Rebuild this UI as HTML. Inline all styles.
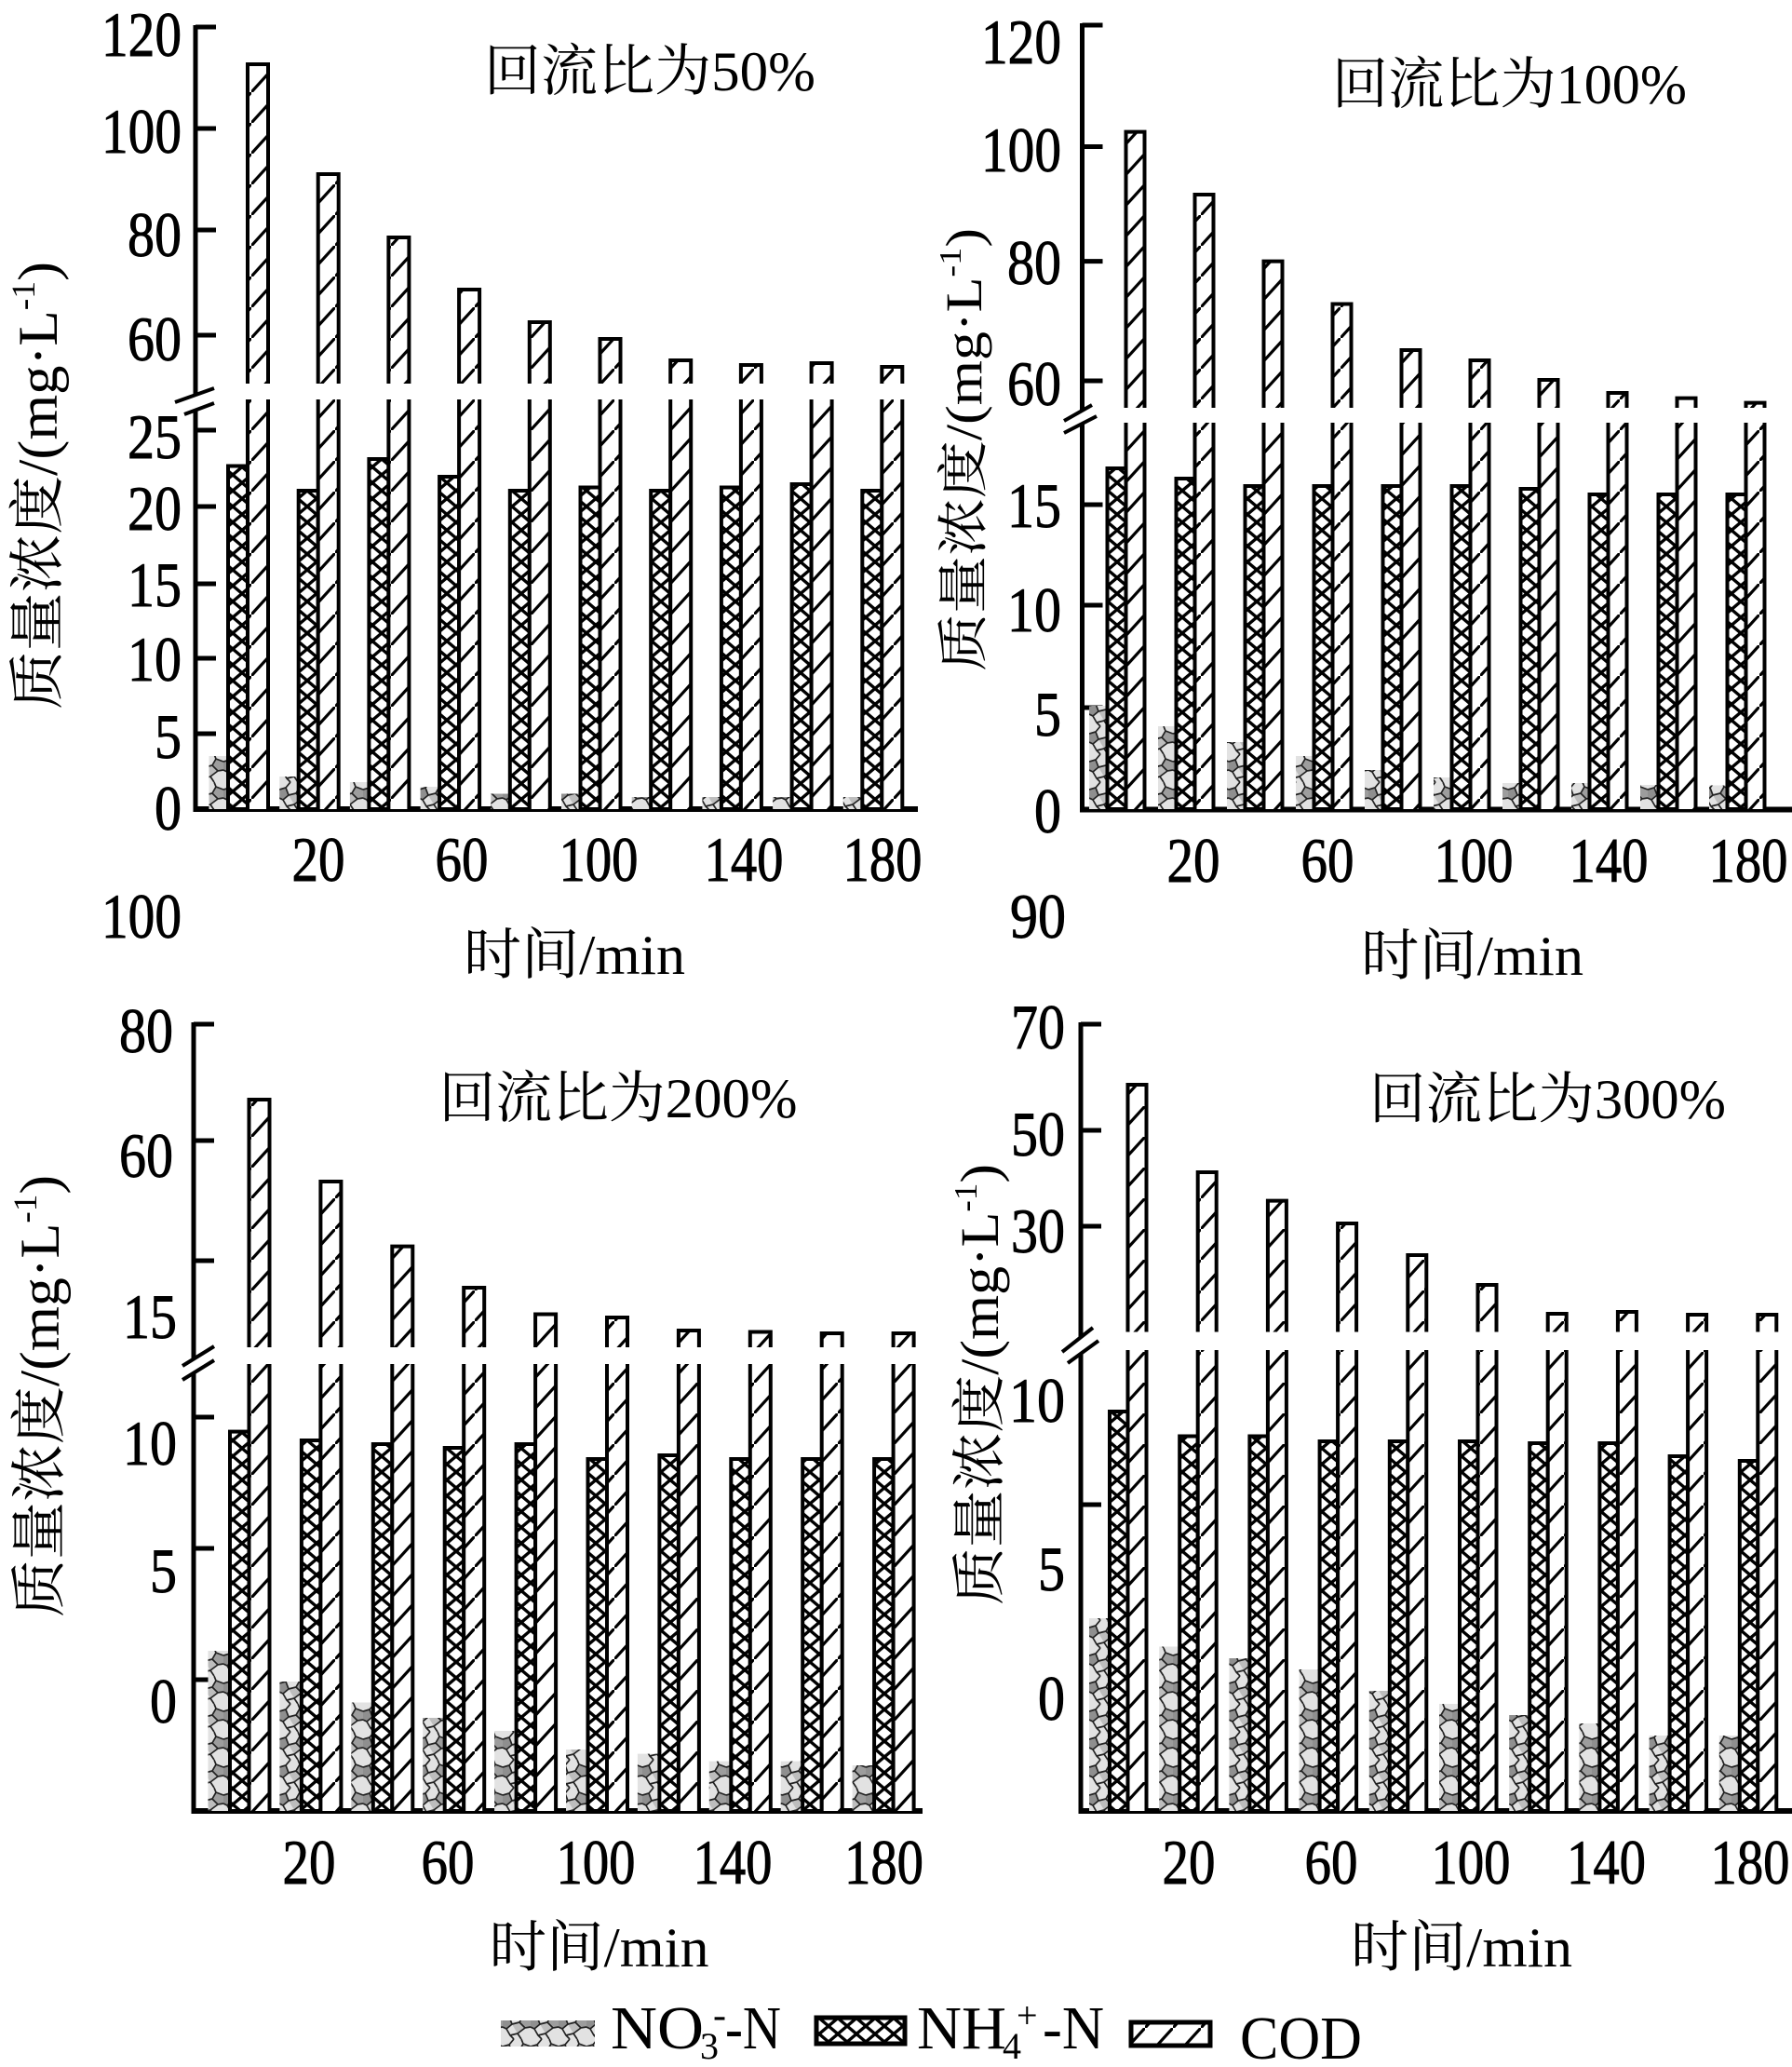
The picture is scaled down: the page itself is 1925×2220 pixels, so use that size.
<!DOCTYPE html>
<html><head><meta charset="utf-8"><style>
html,body{margin:0;padding:0;background:#fff;}
svg{display:block;}
text{font-family:"Liberation Serif","Noto Serif CJK SC",serif;fill:#000;}
.t{font-size:68px;stroke:#000;stroke-width:0.9px;}
.ti{font-size:60px;}
</style></head><body>
<svg width="1925" height="2220" viewBox="0 0 1925 2220" xmlns="http://www.w3.org/2000/svg">
<defs>
<pattern id="cod" width="30" height="33" patternUnits="userSpaceOnUse"><rect width="30" height="33" fill="#fff"/><path d="M-3,36.3 L33,-3.3" stroke="#000" stroke-width="3.2"/></pattern>
<pattern id="nh4" width="20" height="17" patternUnits="userSpaceOnUse"><rect width="20" height="17" fill="#fff"/><path d="M10,0 L20,8.5 L10,17 L0,8.5 Z" fill="none" stroke="#000" stroke-width="3.4"/><circle cx="10" cy="0" r="2"/><circle cx="10" cy="17" r="2"/><circle cx="0" cy="8.5" r="2"/><circle cx="20" cy="8.5" r="2"/></pattern>
<pattern id="no3" width="30" height="30" patternUnits="userSpaceOnUse"><rect width="30" height="30" fill="#e2e2e2"/><path d="M7,6 L10,14 L4,19 L0,17 L0,8 Z" fill="#8f8f8f"/><path d="M18,12 L24,18 L16,24 L10,14 Z" fill="#bdbdbd"/><path d="M22,5 L30,8 L30,17 L24,18 L18,12 Z" fill="#6f6f6f" opacity="0.6"/><path d="M0,8 L7,6 L12,0 M7,6 L10,14 L4,19 L0,17 M10,14 L18,12 L22,5 L20,0 M18,12 L24,18 L30,17 M22,5 L30,8 M4,19 L8,26 L12,30 M8,26 L16,24 L20,30 M16,24 L24,18" fill="none" stroke="#222" stroke-width="1.7"/></pattern>
</defs>

<!-- ============ TOP LEFT ============ -->
<g stroke="#000" stroke-width="5" fill="none">
<path d="M210,27 V424 M210,440 V872"/>
<path d="M208,869 H986" stroke-width="6"/>
<path d="M210,29 h22 M210,138 h22 M210,247 h22 M210,360 h22 M210,462 h22 M210,544 h22 M210,627 h22 M210,707 h22 M210,788 h22"/>
<path d="M188,432 L230,417 M198,445 L230,433" stroke-width="4"/>
</g>
<g fill="url(#no3)">
<rect x="224.5" y="812" width="20.5" height="57"/><rect x="300.2" y="834" width="20.5" height="35"/><rect x="375.9" y="840" width="20.5" height="29"/><rect x="451.6" y="845" width="20.5" height="24"/><rect x="527.3" y="852.5" width="20.5" height="16.5"/><rect x="603" y="852.5" width="20.5" height="16.5"/><rect x="678.7" y="856" width="20.5" height="13"/><rect x="754.4" y="856" width="20.5" height="13"/><rect x="830.1" y="856" width="20.5" height="13"/><rect x="905.8" y="856" width="20.5" height="13"/>
</g>
<g fill="url(#nh4)" stroke="#000" stroke-width="4">
<rect x="245" y="500.5" width="21" height="368.5"/><rect x="320.7" y="527" width="21" height="342"/><rect x="396.4" y="493" width="21" height="376"/><rect x="472.1" y="512" width="21" height="357"/><rect x="547.8" y="527" width="21" height="342"/><rect x="623.5" y="523.5" width="21" height="345.5"/><rect x="699.2" y="527" width="21" height="342"/><rect x="774.9" y="523.5" width="21" height="345.5"/><rect x="850.6" y="520" width="21" height="349"/><rect x="926.3" y="527" width="21" height="342"/>
</g>
<g fill="url(#cod)">
<rect x="266" y="69" width="22" height="343"/><rect x="341.7" y="187" width="22" height="225"/><rect x="417.4" y="255" width="22" height="157"/><rect x="493.1" y="311" width="22" height="101"/><rect x="568.8" y="346" width="22" height="66"/><rect x="644.5" y="364" width="22" height="48"/><rect x="720.2" y="387" width="22" height="25"/><rect x="795.9" y="392" width="22" height="20"/><rect x="871.6" y="390" width="22" height="22"/><rect x="947.3" y="394" width="22" height="18"/>
<rect x="266" y="429" width="22" height="440"/><rect x="341.7" y="429" width="22" height="440"/><rect x="417.4" y="429" width="22" height="440"/><rect x="493.1" y="429" width="22" height="440"/><rect x="568.8" y="429" width="22" height="440"/><rect x="644.5" y="429" width="22" height="440"/><rect x="720.2" y="429" width="22" height="440"/><rect x="795.9" y="429" width="22" height="440"/><rect x="871.6" y="429" width="22" height="440"/><rect x="947.3" y="429" width="22" height="440"/>
</g>
<g fill="none" stroke="#000" stroke-width="4">
<path d="M266,412V69H288V412 M341.7,412V187H363.7V412 M417.4,412V255H439.4V412 M493.1,412V311H515.1V412 M568.8,412V346H590.8V412 M644.5,412V364H666.5V412 M720.2,412V387H742.2V412 M795.9,412V392H817.9V412 M871.6,412V390H893.6V412 M947.3,412V394H969.3V412"/>
<path d="M266,429V869M288,429V869 M341.7,429V869M363.7,429V869 M417.4,429V869M439.4,429V869 M493.1,429V869M515.1,429V869 M568.8,429V869M590.8,429V869 M644.5,429V869M666.5,429V869 M720.2,429V869M742.2,429V869 M795.9,429V869M817.9,429V869 M871.6,429V869M893.6,429V869 M947.3,429V869M969.3,429V869"/>
</g>
<g class="t" text-anchor="end">
<text x="195" y="60" textLength="86" lengthAdjust="spacingAndGlyphs">120</text>
<text x="195" y="164" textLength="86" lengthAdjust="spacingAndGlyphs">100</text>
<text x="195" y="275" textLength="58" lengthAdjust="spacingAndGlyphs">80</text>
<text x="195" y="387" textLength="58" lengthAdjust="spacingAndGlyphs">60</text>
<text x="195" y="492" textLength="58" lengthAdjust="spacingAndGlyphs">25</text>
<text x="195" y="569" textLength="58" lengthAdjust="spacingAndGlyphs">20</text>
<text x="195" y="651" textLength="58" lengthAdjust="spacingAndGlyphs">15</text>
<text x="195" y="731" textLength="58" lengthAdjust="spacingAndGlyphs">10</text>
<text x="195" y="814" textLength="29" lengthAdjust="spacingAndGlyphs">5</text>
<text x="195" y="891" textLength="29" lengthAdjust="spacingAndGlyphs">0</text>
<text x="195" y="1007" textLength="86" lengthAdjust="spacingAndGlyphs">100</text>
</g>
<g class="t" text-anchor="middle">
<text x="342" y="946" textLength="57" lengthAdjust="spacingAndGlyphs">20</text>
<text x="496" y="946" textLength="57" lengthAdjust="spacingAndGlyphs">60</text>
<text x="643" y="946" textLength="85" lengthAdjust="spacingAndGlyphs">100</text>
<text x="799" y="946" textLength="85" lengthAdjust="spacingAndGlyphs">140</text>
<text x="948" y="946" textLength="85" lengthAdjust="spacingAndGlyphs">180</text>
</g>
<text class="ti" x="520" y="97" textLength="356" lengthAdjust="spacingAndGlyphs">回流比为50%</text>
<text class="ti" x="498" y="1046" textLength="238" lengthAdjust="spacingAndGlyphs">时间/min</text>
<text transform="translate(61,762) rotate(-90)" font-size="60" textLength="481" lengthAdjust="spacingAndGlyphs">质量浓度/(mg·L<tspan font-size="36" dy="-24">-1</tspan><tspan dy="24">)</tspan></text>

<!-- ============ TOP RIGHT ============ -->
<g stroke="#000" stroke-width="5" fill="none">
<path d="M1162.5,25 V441 M1162.5,455 V872"/>
<path d="M1160,869.5 H1925" stroke-width="6"/>
<path d="M1162.5,27 h22 M1162.5,157.5 h22 M1162.5,280.6 h22 M1162.5,409 h22 M1162.5,542 h22 M1162.5,650 h22 M1162.5,760 h22"/>
<path d="M1143,452 L1173,435 M1143,465 L1178,447" stroke-width="4"/>
</g>
<g fill="url(#no3)">
<rect x="1170" y="758" width="19.5" height="111"/><rect x="1244" y="780" width="19.5" height="89"/><rect x="1318" y="797" width="19.5" height="72"/><rect x="1392" y="812" width="19.5" height="57"/><rect x="1466" y="827" width="19.5" height="42"/><rect x="1540" y="835" width="19.5" height="34"/><rect x="1614" y="841" width="19.5" height="28"/><rect x="1688" y="841" width="19.5" height="28"/><rect x="1762" y="843" width="19.5" height="26"/><rect x="1836" y="843.5" width="19.5" height="25.5"/>
</g>
<g fill="url(#nh4)" stroke="#000" stroke-width="4">
<rect x="1189.5" y="503" width="20" height="366"/><rect x="1263.5" y="514" width="20" height="355"/><rect x="1337.5" y="522" width="20" height="347"/><rect x="1411.5" y="522" width="20" height="347"/><rect x="1485.5" y="522" width="20" height="347"/><rect x="1559.5" y="522" width="20" height="347"/><rect x="1633.5" y="525" width="20" height="344"/><rect x="1707.5" y="531" width="20" height="338"/><rect x="1781.5" y="531" width="20" height="338"/><rect x="1855.5" y="531" width="20" height="338"/>
</g>
<g fill="url(#cod)">
<rect x="1209.5" y="141.6" width="20" height="296.4"/><rect x="1283.5" y="209" width="20" height="229"/><rect x="1357.5" y="280.6" width="20" height="157.4"/><rect x="1431.5" y="326.5" width="20" height="111.5"/><rect x="1505.5" y="376" width="20" height="62"/><rect x="1579.5" y="387" width="20" height="51"/><rect x="1653.5" y="408" width="20" height="30"/><rect x="1727.5" y="422" width="20" height="16"/><rect x="1801.5" y="427.6" width="20" height="10.4"/><rect x="1875.5" y="432.6" width="20" height="5.4"/>
<rect x="1209.5" y="454" width="20" height="415"/><rect x="1283.5" y="454" width="20" height="415"/><rect x="1357.5" y="454" width="20" height="415"/><rect x="1431.5" y="454" width="20" height="415"/><rect x="1505.5" y="454" width="20" height="415"/><rect x="1579.5" y="454" width="20" height="415"/><rect x="1653.5" y="454" width="20" height="415"/><rect x="1727.5" y="454" width="20" height="415"/><rect x="1801.5" y="454" width="20" height="415"/><rect x="1875.5" y="454" width="20" height="415"/>
</g>
<g fill="none" stroke="#000" stroke-width="4">
<path d="M1209.5,438V141.6H1229.5V438 M1283.5,438V209H1303.5V438 M1357.5,438V280.6H1377.5V438 M1431.5,438V326.5H1451.5V438 M1505.5,438V376H1525.5V438 M1579.5,438V387H1599.5V438 M1653.5,438V408H1673.5V438 M1727.5,438V422H1747.5V438 M1801.5,438V427.6H1821.5V438 M1875.5,438V432.6H1895.5V438"/>
<path d="M1209.5,454V869M1229.5,454V869 M1283.5,454V869M1303.5,454V869 M1357.5,454V869M1377.5,454V869 M1431.5,454V869M1451.5,454V869 M1505.5,454V869M1525.5,454V869 M1579.5,454V869M1599.5,454V869 M1653.5,454V869M1673.5,454V869 M1727.5,454V869M1747.5,454V869 M1801.5,454V869M1821.5,454V869 M1875.5,454V869M1895.5,454V869"/>
</g>
<g class="t" text-anchor="end">
<text x="1140" y="68" textLength="86" lengthAdjust="spacingAndGlyphs">120</text>
<text x="1140" y="184" textLength="86" lengthAdjust="spacingAndGlyphs">100</text>
<text x="1140" y="305" textLength="58" lengthAdjust="spacingAndGlyphs">80</text>
<text x="1140" y="435" textLength="58" lengthAdjust="spacingAndGlyphs">60</text>
<text x="1140" y="566" textLength="58" lengthAdjust="spacingAndGlyphs">15</text>
<text x="1140" y="678" textLength="58" lengthAdjust="spacingAndGlyphs">10</text>
<text x="1140" y="790" textLength="29" lengthAdjust="spacingAndGlyphs">5</text>
<text x="1140" y="894" textLength="29" lengthAdjust="spacingAndGlyphs">0</text>
<text x="1145" y="1007" textLength="60" lengthAdjust="spacingAndGlyphs">90</text>
</g>
<g class="t" text-anchor="middle">
<text x="1282" y="947" textLength="57" lengthAdjust="spacingAndGlyphs">20</text>
<text x="1426" y="947" textLength="57" lengthAdjust="spacingAndGlyphs">60</text>
<text x="1583" y="947" textLength="85" lengthAdjust="spacingAndGlyphs">100</text>
<text x="1728" y="947" textLength="85" lengthAdjust="spacingAndGlyphs">140</text>
<text x="1878" y="947" textLength="85" lengthAdjust="spacingAndGlyphs">180</text>
</g>
<text class="ti" x="1431" y="111" textLength="381" lengthAdjust="spacingAndGlyphs">回流比为100%</text>
<text class="ti" x="1462" y="1047" textLength="239" lengthAdjust="spacingAndGlyphs">时间/min</text>
<text transform="translate(1054,721) rotate(-90)" font-size="55" textLength="476" lengthAdjust="spacingAndGlyphs">质量浓度/(mg·L<tspan font-size="34" dy="-22">-1</tspan><tspan dy="22">)</tspan></text>

<!-- ============ BOTTOM LEFT ============ -->
<g stroke="#000" stroke-width="5" fill="none">
<path d="M208,1098 V1460 M208,1475 V1948"/>
<path d="M206,1945 H991" stroke-width="6"/>
<path d="M208,1100 h22 M208,1225 h22 M208,1354 h22 M208,1522 h22 M208,1663 h22 M208,1804 h22"/>
<path d="M196,1467 L230,1446 M196,1482 L230,1461" stroke-width="4"/>
</g>
<g fill="url(#no3)">
<rect x="223.5" y="1773" width="23.5" height="172"/><rect x="300.4" y="1806" width="23.5" height="139"/><rect x="377.3" y="1828.5" width="23.5" height="116.5"/><rect x="454.2" y="1845" width="23.5" height="100"/><rect x="531.1" y="1859" width="23.5" height="86"/><rect x="608" y="1879" width="23.5" height="66"/><rect x="684.9" y="1883.6" width="23.5" height="61.4"/><rect x="761.8" y="1891.6" width="23.5" height="53.4"/><rect x="838.7" y="1891.6" width="23.5" height="53.4"/><rect x="915.6" y="1896" width="23.5" height="49"/>
</g>
<g fill="url(#nh4)" stroke="#000" stroke-width="4">
<rect x="247" y="1537.6" width="20.5" height="407.4"/><rect x="323.9" y="1547" width="20.5" height="398"/><rect x="400.8" y="1551" width="20.5" height="394"/><rect x="477.7" y="1555" width="20.5" height="390"/><rect x="554.6" y="1551" width="20.5" height="394"/><rect x="631.5" y="1567" width="20.5" height="378"/><rect x="708.4" y="1563" width="20.5" height="382"/><rect x="785.3" y="1567" width="20.5" height="378"/><rect x="862.2" y="1567" width="20.5" height="378"/><rect x="939.1" y="1567" width="20.5" height="378"/>
</g>
<g fill="url(#cod)">
<rect x="267.5" y="1181" width="22" height="266"/><rect x="344.4" y="1269" width="22" height="178"/><rect x="421.3" y="1338.6" width="22" height="108.4"/><rect x="498.2" y="1383" width="22" height="64"/><rect x="575.1" y="1411.5" width="22" height="35.5"/><rect x="652" y="1415" width="22" height="32"/><rect x="728.9" y="1429" width="22" height="18"/><rect x="805.8" y="1430.5" width="22" height="16.5"/><rect x="882.7" y="1432" width="22" height="15"/><rect x="959.6" y="1432" width="22" height="15"/>
<rect x="267.5" y="1465" width="22" height="480"/><rect x="344.4" y="1465" width="22" height="480"/><rect x="421.3" y="1465" width="22" height="480"/><rect x="498.2" y="1465" width="22" height="480"/><rect x="575.1" y="1465" width="22" height="480"/><rect x="652" y="1465" width="22" height="480"/><rect x="728.9" y="1465" width="22" height="480"/><rect x="805.8" y="1465" width="22" height="480"/><rect x="882.7" y="1465" width="22" height="480"/><rect x="959.6" y="1465" width="22" height="480"/>
</g>
<g fill="none" stroke="#000" stroke-width="4">
<path d="M267.5,1447V1181H289.5V1447 M344.4,1447V1269H366.4V1447 M421.3,1447V1338.6H443.3V1447 M498.2,1447V1383H520.2V1447 M575.1,1447V1411.5H597.1V1447 M652,1447V1415H674V1447 M728.9,1447V1429H750.9V1447 M805.8,1447V1430.5H827.8V1447 M882.7,1447V1432H904.7V1447 M959.6,1447V1432H981.6V1447"/>
<path d="M267.5,1465V1945M289.5,1465V1945 M344.4,1465V1945M366.4,1465V1945 M421.3,1465V1945M443.3,1465V1945 M498.2,1465V1945M520.2,1465V1945 M575.1,1465V1945M597.1,1465V1945 M652,1465V1945M674,1465V1945 M728.9,1465V1945M750.9,1465V1945 M805.8,1465V1945M827.8,1465V1945 M882.7,1465V1945M904.7,1465V1945 M959.6,1465V1945M981.6,1465V1945"/>
</g>
<g class="t" text-anchor="end">
<text x="186" y="1130" textLength="58" lengthAdjust="spacingAndGlyphs">80</text>
<text x="186" y="1264" textLength="58" lengthAdjust="spacingAndGlyphs">60</text>
<text x="190" y="1437" textLength="58" lengthAdjust="spacingAndGlyphs">15</text>
<text x="190" y="1573" textLength="58" lengthAdjust="spacingAndGlyphs">10</text>
<text x="190" y="1710" textLength="29" lengthAdjust="spacingAndGlyphs">5</text>
<text x="190" y="1850" textLength="29" lengthAdjust="spacingAndGlyphs">0</text>
</g>
<g class="t" text-anchor="middle">
<text x="332" y="2023" textLength="57" lengthAdjust="spacingAndGlyphs">20</text>
<text x="481" y="2023" textLength="57" lengthAdjust="spacingAndGlyphs">60</text>
<text x="640" y="2023" textLength="85" lengthAdjust="spacingAndGlyphs">100</text>
<text x="787" y="2023" textLength="85" lengthAdjust="spacingAndGlyphs">140</text>
<text x="949.5" y="2023" textLength="85" lengthAdjust="spacingAndGlyphs">180</text>
</g>
<text class="ti" x="471.5" y="1200" textLength="385" lengthAdjust="spacingAndGlyphs">回流比为200%</text>
<text class="ti" x="525.5" y="2112" textLength="236" lengthAdjust="spacingAndGlyphs">时间/min</text>
<text transform="translate(63,1737) rotate(-90)" font-size="60" textLength="475" lengthAdjust="spacingAndGlyphs">质量浓度/(mg·L<tspan font-size="36" dy="-24">-1</tspan><tspan dy="24">)</tspan></text>

<!-- ============ BOTTOM RIGHT ============ -->
<g stroke="#000" stroke-width="5" fill="none">
<path d="M1161,1098 V1436 M1161,1454 V1948"/>
<path d="M1159,1945 H1925" stroke-width="6"/>
<path d="M1161,1100 h22 M1161,1214 h22 M1161,1317 h22 M1161,1616 h22"/>
<path d="M1141,1452 L1174,1426 M1147,1464 L1180,1440" stroke-width="4"/>
</g>
<g fill="url(#no3)">
<rect x="1170" y="1738" width="22" height="207"/><rect x="1245.2" y="1768.5" width="22" height="176.5"/><rect x="1320.4" y="1781" width="22" height="164"/><rect x="1395.6" y="1793" width="22" height="152"/><rect x="1470.8" y="1816" width="22" height="129"/><rect x="1546" y="1830" width="22" height="115"/><rect x="1621.2" y="1842" width="22" height="103"/><rect x="1696.4" y="1851" width="22" height="94"/><rect x="1771.6" y="1864" width="22" height="81"/><rect x="1846.8" y="1864" width="22" height="81"/>
</g>
<g fill="url(#nh4)" stroke="#000" stroke-width="4">
<rect x="1192" y="1516" width="19.5" height="429"/><rect x="1267.2" y="1542.5" width="19.5" height="402.5"/><rect x="1342.4" y="1542.5" width="19.5" height="402.5"/><rect x="1417.6" y="1548" width="19.5" height="397"/><rect x="1492.8" y="1548" width="19.5" height="397"/><rect x="1568" y="1548" width="19.5" height="397"/><rect x="1643.2" y="1550" width="19.5" height="395"/><rect x="1718.4" y="1550" width="19.5" height="395"/><rect x="1793.6" y="1564" width="19.5" height="381"/><rect x="1868.8" y="1569" width="19.5" height="376"/>
</g>
<g fill="url(#cod)">
<rect x="1211.5" y="1165" width="20" height="265.5"/><rect x="1286.7" y="1259" width="20" height="171.5"/><rect x="1361.9" y="1289.6" width="20" height="140.9"/><rect x="1437.1" y="1314" width="20" height="116.5"/><rect x="1512.3" y="1348" width="20" height="82.5"/><rect x="1587.5" y="1380" width="20" height="50.5"/><rect x="1662.7" y="1411" width="20" height="19.5"/><rect x="1737.9" y="1409" width="20" height="21.5"/><rect x="1813.1" y="1412" width="20" height="18.5"/><rect x="1888.3" y="1412" width="20" height="18.5"/>
<rect x="1211.5" y="1450" width="20" height="495"/><rect x="1286.7" y="1450" width="20" height="495"/><rect x="1361.9" y="1450" width="20" height="495"/><rect x="1437.1" y="1450" width="20" height="495"/><rect x="1512.3" y="1450" width="20" height="495"/><rect x="1587.5" y="1450" width="20" height="495"/><rect x="1662.7" y="1450" width="20" height="495"/><rect x="1737.9" y="1450" width="20" height="495"/><rect x="1813.1" y="1450" width="20" height="495"/><rect x="1888.3" y="1450" width="20" height="495"/>
</g>
<g fill="none" stroke="#000" stroke-width="4">
<path d="M1211.5,1430.5V1165H1231.5V1430.5 M1286.7,1430.5V1259H1306.7V1430.5 M1361.9,1430.5V1289.6H1381.9V1430.5 M1437.1,1430.5V1314H1457.1V1430.5 M1512.3,1430.5V1348H1532.3V1430.5 M1587.5,1430.5V1380H1607.5V1430.5 M1662.7,1430.5V1411H1682.7V1430.5 M1737.9,1430.5V1409H1757.9V1430.5 M1813.1,1430.5V1412H1833.1V1430.5 M1888.3,1430.5V1412H1908.3V1430.5"/>
<path d="M1211.5,1450V1945M1231.5,1450V1945 M1286.7,1450V1945M1306.7,1450V1945 M1361.9,1450V1945M1381.9,1450V1945 M1437.1,1450V1945M1457.1,1450V1945 M1512.3,1450V1945M1532.3,1450V1945 M1587.5,1450V1945M1607.5,1450V1945 M1662.7,1450V1945M1682.7,1450V1945 M1737.9,1450V1945M1757.9,1450V1945 M1813.1,1450V1945M1833.1,1450V1945 M1888.3,1450V1945M1908.3,1450V1945"/>
</g>
<g class="t" text-anchor="end">
<text x="1144" y="1126" textLength="58" lengthAdjust="spacingAndGlyphs">70</text>
<text x="1144" y="1241" textLength="58" lengthAdjust="spacingAndGlyphs">50</text>
<text x="1144" y="1345" textLength="58" lengthAdjust="spacingAndGlyphs">30</text>
<text x="1144" y="1527" textLength="60" lengthAdjust="spacingAndGlyphs">10</text>
<text x="1144" y="1708" textLength="29" lengthAdjust="spacingAndGlyphs">5</text>
<text x="1144" y="1847" textLength="29" lengthAdjust="spacingAndGlyphs">0</text>
</g>
<g class="t" text-anchor="middle">
<text x="1277" y="2023" textLength="57" lengthAdjust="spacingAndGlyphs">20</text>
<text x="1430" y="2023" textLength="57" lengthAdjust="spacingAndGlyphs">60</text>
<text x="1580" y="2023" textLength="85" lengthAdjust="spacingAndGlyphs">100</text>
<text x="1725.5" y="2023" textLength="85" lengthAdjust="spacingAndGlyphs">140</text>
<text x="1880" y="2023" textLength="85" lengthAdjust="spacingAndGlyphs">180</text>
</g>
<text class="ti" x="1471" y="1201" textLength="383" lengthAdjust="spacingAndGlyphs">回流比为300%</text>
<text class="ti" x="1451" y="2112" textLength="238" lengthAdjust="spacingAndGlyphs">时间/min</text>
<text transform="translate(1072,1724) rotate(-90)" font-size="58" textLength="474" lengthAdjust="spacingAndGlyphs">质量浓度/(mg·L<tspan font-size="35" dy="-23">-1</tspan><tspan dy="23">)</tspan></text>

<!-- ============ LEGEND ============ -->
<rect x="538" y="2170" width="101" height="28" fill="url(#no3)"/>
<text x="656" y="2200" font-size="66" textLength="100" lengthAdjust="spacingAndGlyphs">NO</text>
<text x="752" y="2211" font-size="40">3</text>
<text x="766" y="2178" font-size="42">-</text>
<text x="779" y="2200" font-size="66" textLength="60" lengthAdjust="spacingAndGlyphs">-N</text>

<rect x="877" y="2167" width="95" height="28" fill="url(#nh4)" stroke="#000" stroke-width="5"/>
<text x="985" y="2200" font-size="66" textLength="96" lengthAdjust="spacingAndGlyphs">NH</text>
<text x="1077" y="2211" font-size="40">4</text>
<text x="1092" y="2178" font-size="40">+</text>
<text x="1120" y="2200" font-size="66" textLength="66" lengthAdjust="spacingAndGlyphs">-N</text>

<rect x="1215" y="2172" width="85" height="25" fill="url(#cod)" stroke="#000" stroke-width="5"/>
<text x="1332" y="2211" font-size="66" textLength="131" lengthAdjust="spacingAndGlyphs">COD</text>
</svg>
</body></html>
